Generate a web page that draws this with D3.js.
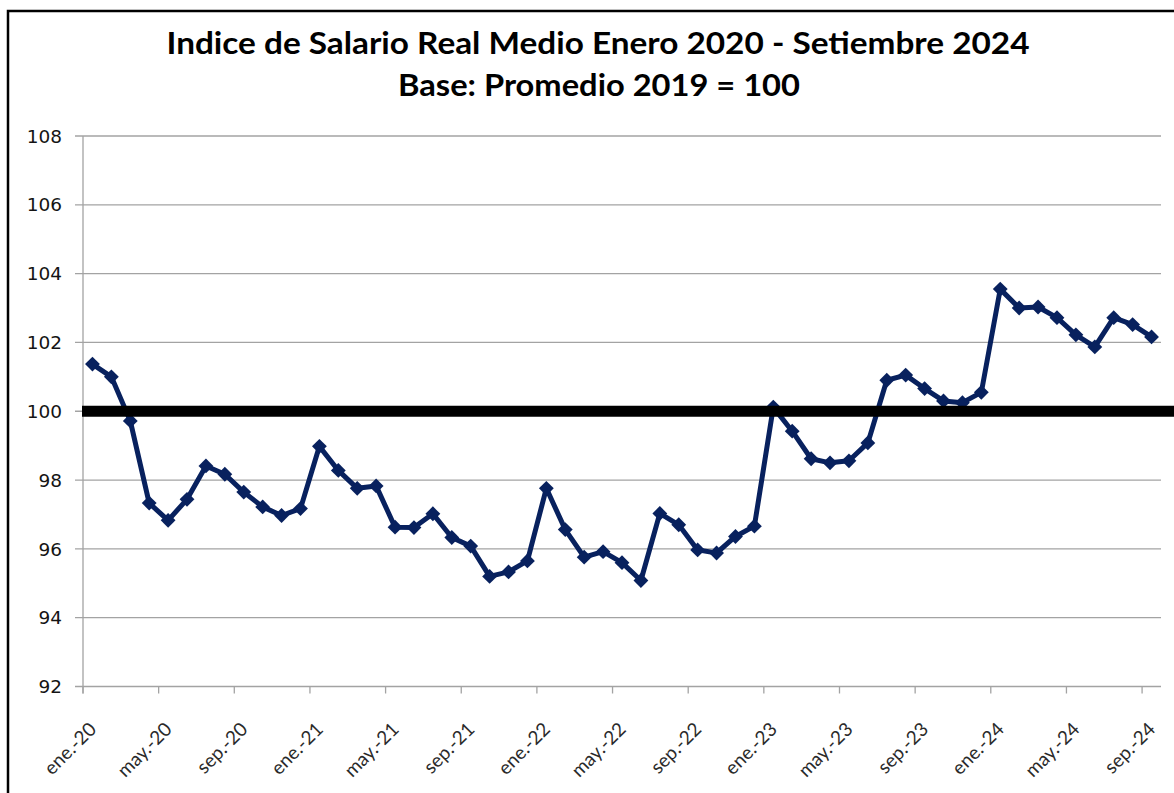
<!DOCTYPE html>
<html lang="es">
<head>
  <meta charset="UTF-8">
  <title>Indice de Salario Real Medio</title>
  <script src="https://d3js.org/d3.v7.min.js"></script>
  <style>
    body { margin: 0; padding: 0; background: #fff; }
    svg { display: block; }
    .title { font-family: Lato, "Liberation Sans", sans-serif; font-weight: bold; fill: #000; }
    .ylab { font-family: "DejaVu Sans", Verdana, sans-serif; font-size: 18.5px; fill: #141414; }
    .xlab { font-family: Lato, "Open Sans", sans-serif; font-size: 19px; fill: #2a2a2a; }
  </style>
</head>
<body>
<svg id="chart" width="1174" height="793"></svg>
<script>
  // meses (ene.-20 ... sep.-24)
  const meses = ["ene.", "feb.", "mar.", "abr.", "may.", "jun.", "jul.", "ago.", "sep.", "oct.", "nov.", "dic."];
  const anios = ["20", "21", "22", "23", "24"];

  // indice de salario real medio, base promedio 2019 = 100
  const valores2020 = [101.37, 101.0, 99.72, 97.33, 96.83, 97.44, 98.41, 98.17, 97.65, 97.22, 96.97, 97.17];
  const valores2021 = [98.98, 98.28, 97.76, 97.83, 96.63, 96.62, 97.02, 96.33, 96.08, 95.2, 95.33, 95.65];
  const valores2022 = [97.76, 96.56, 95.76, 95.92, 95.6, 95.08, 97.03, 96.7, 95.97, 95.88, 96.36, 96.66];
  const valores2023 = [100.12, 99.42, 98.62, 98.5, 98.56, 99.08, 100.9, 101.05, 100.66, 100.3, 100.25, 100.55];
  const valores2024 = [103.55, 103.0, 103.03, 102.72, 102.22, 101.87, 102.72, 102.52, 102.16];

  const yTicks = [92, 94, 96, 98, 100, 102, 104, 106, 108];
  const base = 100;

  const tituloLinea1 = "Indice de Salario Real Medio Enero 2020 - Setiembre 2024";
  const tituloLinea2 = "Base: Promedio 2019 = 100";

  const valores = [].concat(valores2020, valores2021, valores2022, valores2023, valores2024);
  const data = valores.map((v, i) => ({
    label: meses[i % 12] + "-" + anios[Math.floor(i / 12)],
    value: v
  }));

  const svg = d3.select("#chart");
  const margin = { top: 136, right: 13, bottom: 107, left: 83 };
  const width = 1174, height = 793;

  const x = d3.scaleBand()
    .domain(data.map(d => d.label))
    .range([margin.left, width - margin.right])
    .paddingInner(0).paddingOuter(0);

  const y = d3.scaleLinear()
    .domain([92, 108])
    .range([height - margin.bottom + 0.5, margin.top]);

  // marco
  svg.append("path")
    .attr("d", "M8,800 V11 H1180")
    .attr("fill", "none")
    .attr("stroke", "#000")
    .attr("stroke-width", 2.5);

  // titulo
  const t1 = svg.append("text").attr("class", "title")
    .attr("x", 598).attr("y", 54).attr("text-anchor", "middle")
    .style("font-size", "30px").text(tituloLinea1);
  const t2 = svg.append("text").attr("class", "title")
    .attr("x", 599).attr("y", 96).attr("text-anchor", "middle")
    .style("font-size", "30px").text(tituloLinea2);
  // ajustar ancho al de la imagen
  [[t1, 863], [t2, 402]].forEach(([t, w]) => {
    const len = t.node().getComputedTextLength();
    if (len > 0) t.attr("textLength", w).attr("lengthAdjust", "spacingAndGlyphs");
  });

  // lineas de grilla y eje Y
  const xl = margin.left, xr = width - margin.right;
  svg.append("g").selectAll("line")
    .data(yTicks)
    .join("line")
    .attr("x1", xl - 8).attr("x2", xr)
    .attr("y1", d => y(d)).attr("y2", d => y(d))
    .attr("stroke", "#a3a3a3").attr("stroke-width", 1.3);

  svg.append("line")
    .attr("x1", xl).attr("x2", xl)
    .attr("y1", y(108)).attr("y2", y(92) + 7)
    .attr("stroke", "#a3a3a3").attr("stroke-width", 1.3);

  svg.append("g").selectAll("text")
    .data(yTicks)
    .join("text")
    .attr("class", "ylab")
    .attr("x", 62).attr("y", d => y(d))
    .attr("dy", "0.36em")
    .attr("text-anchor", "end")
    .text(d => d);

  // eje X: marcas cada 4 meses
  const xTickData = data.filter((d, i) => i % 4 === 0);
  svg.append("g").selectAll("line")
    .data(xTickData)
    .join("line")
    .attr("x1", d => x(d.label)).attr("x2", d => x(d.label))
    .attr("y1", y(92)).attr("y2", y(92) + 7)
    .attr("stroke", "#a3a3a3").attr("stroke-width", 1.3);

  svg.append("g").selectAll("text")
    .data(xTickData)
    .join("text")
    .attr("class", "xlab")
    .attr("text-anchor", "end")
    .attr("transform", d => `translate(${x(d.label) + x.bandwidth() / 2 + 5},${y(92) + 44}) rotate(-45)`)
    .text(d => d.label);

  // serie
  const cx = d => x(d.label) + x.bandwidth() / 2;
  const line = d3.line().x(cx).y(d => y(d.value));

  svg.append("path")
    .datum(data)
    .attr("d", line)
    .attr("fill", "none")
    .attr("stroke", "#08215e")
    .attr("stroke-width", 5)
    .attr("stroke-linejoin", "round");

  svg.append("g").selectAll("path")
    .data(data)
    .join("path")
    .attr("d", d3.symbol(d3.symbolSquare, 110))
    .attr("transform", d => `translate(${cx(d)},${y(d.value)}) rotate(45)`)
    .attr("fill", "#08215e");

  // linea base 100
  svg.append("line")
    .attr("x1", xl - 1).attr("x2", width)
    .attr("y1", y(base)).attr("y2", y(base))
    .attr("stroke", "#000")
    .attr("stroke-width", 11);
</script>
</body>
</html>
